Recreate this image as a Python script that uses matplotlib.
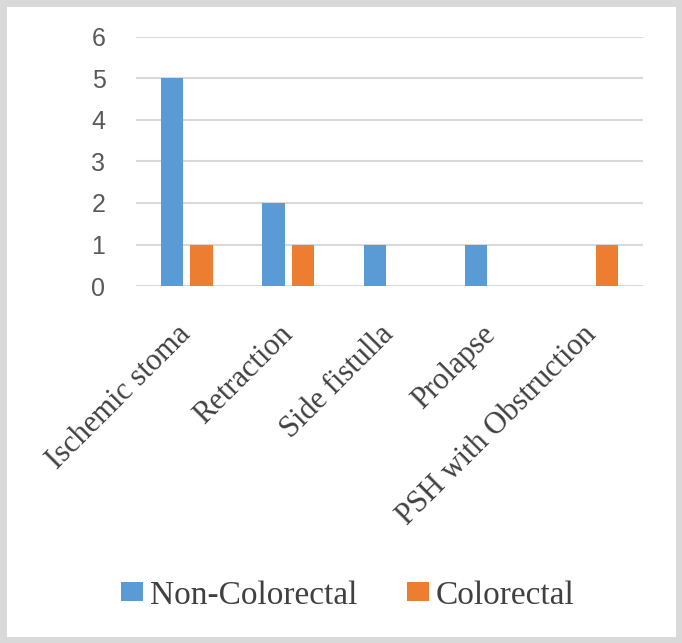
import numpy as np
import matplotlib.pyplot as plt
from matplotlib.patches import Rectangle

# chart data
categories = ["Ischemic stoma", "Retraction", "Side fistulla", "Prolapse", "PSH with Obstruction"]
non_colorectal = [5, 2, 1, 1, 0]
colorectal = [1, 1, 0, 0, 1]
yticks = [0, 1, 2, 3, 4, 5, 6]

fig = plt.figure(figsize=(6.82, 6.43), dpi=100)
ax = fig.add_axes([0.1994, 0.5552, 0.7434, 0.3873])

x = np.arange(len(categories))
w = 0.22
ax.bar(x - 0.145, non_colorectal, w, color="#5b9bd5", label="Non-Colorectal", zorder=3)
ax.bar(x + 0.145, colorectal, w, color="#ed7d31", label="Colorectal", zorder=3)

ax.set_xlim(-0.5, len(categories) - 0.5)
ax.set_ylim(0, 6)
ax.set_yticks(yticks)
ax.set_yticklabels([str(v) for v in yticks], fontsize=18, color="#595959",
                   family="Liberation Sans")
ax.yaxis.grid(True, color="#d9d9d9", linewidth=1.5, zorder=0)
ax.tick_params(axis="both", length=0)
ax.tick_params(axis="y", pad=22)

ax.set_xticks(x)
ax.set_xticklabels(categories, rotation=45, ha="right", va="center", rotation_mode="anchor",
                   fontsize=22, color="#404040", family="Liberation Serif")
ax.tick_params(axis="x", pad=32)

for s in ax.spines.values():
    s.set_visible(False)

leg = fig.legend(loc="center", bbox_to_anchor=(0.51, 0.074), ncol=2, frameon=False,
                 prop={"family": "Liberation Serif", "size": 24},
                 handlelength=0.65, handleheight=0.5, handletextpad=0.2, columnspacing=1.5)
for t in leg.get_texts():
    t.set_color("#404040")

# light grey frame around the picture
fig.patches.append(Rectangle((0.004, 0.004), 0.992, 0.992, transform=fig.transFigure,
                             fill=False, edgecolor="#d9d9d9", linewidth=5))

fig.savefig("out.png", dpi=100)
